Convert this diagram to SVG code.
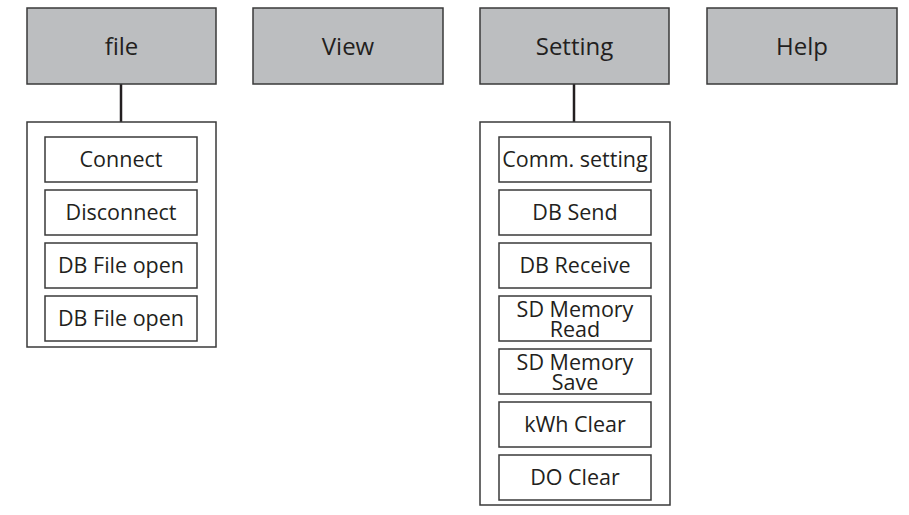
<svg xmlns="http://www.w3.org/2000/svg" width="909" height="515" viewBox="0 0 909 515">
<style>
.top{fill:#bcbec0;stroke:#3a3a3a;stroke-width:1.5}
.cont{fill:#fff;stroke:#3a3a3a;stroke-width:1.5}
.item{fill:#fff;stroke:#3a3a3a;stroke-width:1.5}
.conn{stroke:#231f20;stroke-width:2.5;fill:none}
text{font-family:"Open Sans","Noto Sans","Liberation Sans",sans-serif;fill:#231f20;text-anchor:middle}
.tt{font-size:24px}
.it{font-size:21.5px}
</style>
<rect width="909" height="515" fill="#fff"/>
<g id="connectors">
<line class="conn" x1="121" y1="84" x2="121" y2="122"/>
<line class="conn" x1="574" y1="84" x2="574" y2="122"/>
</g>
<g id="file"><rect class="top" x="27" y="8" width="189" height="76"/><text class="tt" x="121.5" y="55">file</text></g>
<g id="view"><rect class="top" x="253" y="8" width="190" height="76"/><text class="tt" x="348" y="55">View</text></g>
<g id="setting"><rect class="top" x="480" y="8" width="189" height="76"/><text class="tt" x="574.5" y="55">Setting</text></g>
<g id="help"><rect class="top" x="707" y="8" width="190" height="76"/><text class="tt" x="802" y="55">Help</text></g>
<g id="file-menu">
<rect class="cont" x="27" y="122" width="189" height="225"/>
<g id="connect"><rect class="item" x="45" y="137" width="152" height="45"/><text class="it" x="121" y="167">Connect</text></g>
<g id="disconnect"><rect class="item" x="45" y="190" width="152" height="45"/><text class="it" x="121" y="220">Disconnect</text></g>
<g id="dbfileopen1"><rect class="item" x="45" y="243" width="152" height="45"/><text class="it" x="121" y="273">DB File open</text></g>
<g id="dbfileopen2"><rect class="item" x="45" y="296" width="152" height="45"/><text class="it" x="121" y="326">DB File open</text></g>
</g>
<g id="setting-menu">
<rect class="cont" x="480" y="122" width="190" height="383"/>
<g id="comm"><rect class="item" x="499" y="137" width="152" height="45"/><text class="it" x="575" y="167">Comm. setting</text></g>
<g id="dbsend"><rect class="item" x="499" y="190" width="152" height="45"/><text class="it" x="575" y="220">DB Send</text></g>
<g id="dbreceive"><rect class="item" x="499" y="243" width="152" height="45"/><text class="it" x="575" y="273">DB Receive</text></g>
<g id="sdread"><rect class="item" x="499" y="296" width="152" height="45"/><text class="it" x="575" y="317">SD Memory<tspan x="575" dy="20">Read</tspan></text></g>
<g id="sdsave"><rect class="item" x="499" y="349" width="152" height="45"/><text class="it" x="575" y="370">SD Memory<tspan x="575" dy="20">Save</tspan></text></g>
<g id="kwh"><rect class="item" x="499" y="402" width="152" height="45"/><text class="it" x="575" y="432">kWh Clear</text></g>
<g id="doclear"><rect class="item" x="499" y="455" width="152" height="45"/><text class="it" x="575" y="485">DO Clear</text></g>
</g>
</svg>
